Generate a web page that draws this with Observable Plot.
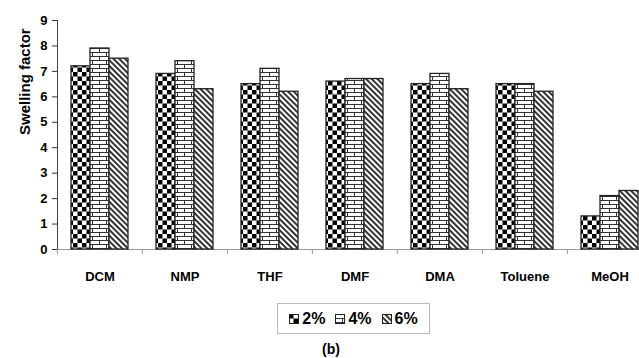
<!DOCTYPE html>
<html>
<head>
<meta charset="utf-8">
<script src="https://cdn.jsdelivr.net/npm/d3@7"></script>
<script src="https://cdn.jsdelivr.net/npm/@observablehq/plot@0.6"></script>
<style>
  html, body { margin: 0; padding: 0; background: #fff; overflow: hidden; width: 639px; height: 358px; }
  #wrap { position: relative; width: 639px; height: 358px; overflow: hidden; font-family: "Liberation Sans", Arial, sans-serif; }
  #chart svg { max-width: none !important; }
  #legend { position: absolute; left: 277px; top: 303px; width: 151px; height: 29px; border: 1px solid #bbb;
            display: flex; align-items: center; justify-content: center; gap: 10px; font-weight: bold; font-size: 16px; }
  #legend span { display: inline-flex; align-items: center; gap: 3px; }
  #caption { position: absolute; left: 322px; top: 341px; font-weight: bold; font-size: 14px; }
</style>
</head>
<body>
<div id="wrap"><div id="chart"></div><div id="legend"></div><div id="caption">(b)</div></div>
<script>
const categories = ["DCM", "NMP", "THF", "DMF", "DMA", "Toluene", "MeOH"];
const series = ["2%", "4%", "6%"];
const pct2 = [7.2, 6.9, 6.5, 6.6, 6.5, 6.5, 1.3];
const pct4 = [7.9, 7.4, 7.1, 6.7, 6.9, 6.5, 2.1];
const pct6 = [7.5, 6.3, 6.2, 6.7, 6.3, 6.2, 2.3];
const yTicks = [0, 1, 2, 3, 4, 5, 6, 7, 8, 9];
const patternIds = ["pat-checker", "pat-brick", "pat-diag"];

const valuesBySeries = [pct2, pct4, pct6];
const data = categories.flatMap((c, i) => series.map((s, j) => ({category: c, series: s, value: valuesBySeries[j][i]})));

const W = 660, ML = 56, MR = 7;
const band = (W - ML - MR) / categories.length;

const marks = series.map((s, j) =>
  Plot.barY(data.filter(d => d.series === s), {
    fx: "category", x: "series", y: "value",
    fill: `url(#${patternIds[j]})`, stroke: "#222", strokeWidth: 1.3
  })
);

const svg = Plot.plot({
  width: W, height: 300,
  marginLeft: ML, marginRight: MR, marginTop: 20, marginBottom: 51,
  style: {fontFamily: "'Liberation Sans', Arial, sans-serif", fontWeight: "bold", fontSize: "13px", color: "#000", background: "#fff", maxWidth: "none"},
  fx: {domain: categories, padding: 0, axis: null},
  x: {domain: series, paddingInner: 0, paddingOuter: 0.7, axis: null},
  y: {domain: [0, 9], axis: null},
  marks: [
    Plot.ruleY([0], {stroke: "#999", strokeWidth: 1}),
    ...marks,
    Plot.axisY({ticks: yTicks, tickSize: 5, tickPadding: 5, label: null, fontSize: 13, stroke: "#333"}),
    Plot.frame({anchor: "left", facetAnchor: "left", stroke: "#444"}),
    Plot.axisFx({anchor: "bottom", tickSize: 0, tickPadding: 22, label: null, fontSize: 13}),
    Plot.axisFx({anchor: "bottom", text: null, tickSize: 5, dx: -band / 2, stroke: "#999", label: null}),
    Plot.text(["Swelling factor"], {facetAnchor: "left", frameAnchor: "left", dx: -32, rotate: -90, fontSize: 15, fontWeight: "bold", y: [4.5]})
  ]
});
document.getElementById("chart").appendChild(svg);

function addDefs(sel) {
  const defs = sel.insert("defs", ":first-child");
  const p1 = defs.append("pattern").attr("id", patternIds[0]).attr("patternUnits", "userSpaceOnUse").attr("width", 9).attr("height", 9);
  p1.append("rect").attr("width", 9).attr("height", 9).attr("fill", "#fff");
  p1.append("rect").attr("width", 4.5).attr("height", 4.5).attr("fill", "#000");
  p1.append("rect").attr("x", 4.5).attr("y", 4.5).attr("width", 4.5).attr("height", 4.5).attr("fill", "#000");
  const p2 = defs.append("pattern").attr("id", patternIds[1]).attr("patternUnits", "userSpaceOnUse").attr("width", 14).attr("height", 8);
  p2.append("rect").attr("width", 14).attr("height", 8).attr("fill", "#fff");
  p2.append("path").attr("d", "M0,0.5H14M0,4.5H14M0.5,0.5V4.5M7.5,4.5V8").attr("stroke", "#333").attr("stroke-width", 1).attr("fill", "none");
  const p3 = defs.append("pattern").attr("id", patternIds[2]).attr("patternUnits", "userSpaceOnUse").attr("width", 4).attr("height", 4).attr("patternTransform", "rotate(45)");
  p3.append("rect").attr("width", 4).attr("height", 4).attr("fill", "#fff");
  p3.append("line").attr("x1", 0).attr("y1", 2).attr("x2", 4).attr("y2", 2).attr("stroke", "#000").attr("stroke-width", 1.6);
}
addDefs(d3.select(svg));

const legend = d3.select("#legend");
series.forEach((s, j) => {
  const item = legend.append("span");
  const sw = item.append("svg").attr("width", 10).attr("height", 10);
  sw.append("rect").attr("x", 0.5).attr("y", 0.5).attr("width", 9).attr("height", 9).attr("fill", `url(#${patternIds[j]})`).attr("stroke", "#222");
  item.append("span").text(s);
});
</script>
</body>
</html>
